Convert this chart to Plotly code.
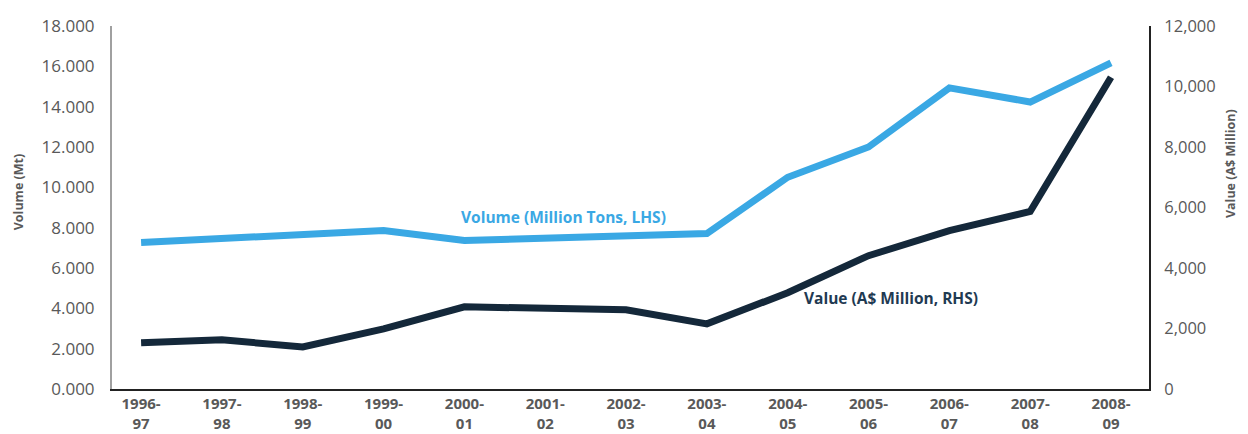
import plotly.graph_objects as go

categories = ["1996-97", "1997-98", "1998-99", "1999-00", "2000-01", "2001-02", "2002-03",
              "2003-04", "2004-05", "2005-06", "2006-07", "2007-08", "2008-09"]
volume_mt = [7.26, 7.46, 7.66, 7.86, 7.36, 7.46, 7.61, 7.71, 10.5, 12.0, 14.93, 14.23, 16.17]
value_aud_m = [1525, 1624, 1392, 1989, 2718, 2652, 2618, 2154, 3182, 4408, 5237, 5867, 10308]
left_ticks = [0, 2, 4, 6, 8, 10, 12, 14, 16, 18]
right_ticks = [0, 2000, 4000, 6000, 8000, 10000, 12000]

idx = list(range(len(categories)))
ticktext = [c.replace("-", "-<br>") for c in categories]

FONT = "Open Sans"
GRAY = "#595959"
BLUE = "#3AA8E4"
NAVY = "#14283A"

fig = go.Figure()
fig.add_trace(go.Scatter(x=idx, y=volume_mt, mode="lines", line=dict(color=BLUE, width=7),
                         name="Volume", yaxis="y"))
fig.add_trace(go.Scatter(x=idx, y=value_aud_m, mode="lines", line=dict(color=NAVY, width=7),
                         name="Value", yaxis="y2"))

# page body has an 8px default margin, so the figure is sized/offset to compensate
fig.update_layout(
    width=1240, height=426,
    margin=dict(l=104, r=99, t=18, b=45),
    paper_bgcolor="white", plot_bgcolor="white",
    showlegend=False,
    font=dict(family=FONT, color=GRAY, size=15),
    xaxis=dict(range=[-0.36, 12.47], tickvals=idx, ticktext=ticktext, showgrid=False,
               zeroline=False, showline=True, linecolor="#222222", linewidth=2,
               automargin=False, ticks="", ticklabelstandoff=0,
               tickfont=dict(family=FONT, size=15, color=GRAY, weight="bold")),
    yaxis=dict(range=[0, 18], tickvals=left_ticks, tickformat=".3f", showgrid=False,
               zeroline=False, showline=True, linecolor="#a0a0a0", linewidth=2,
               automargin=False, ticks="", ticklabelstandoff=12,
               tickfont=dict(family=FONT, size=17, color=GRAY)),
    yaxis2=dict(range=[0, 12000], tickvals=right_ticks, tickformat=",.0f", overlaying="y",
                side="right", showgrid=False, zeroline=False, showline=True,
                linecolor="#222222", linewidth=2, automargin=False, ticks="",
                ticklabelstandoff=10, tickfont=dict(family=FONT, size=16.5, color=GRAY)),
    annotations=[
        dict(text="Volume (Mt)", xref="paper", yref="paper", x=-0.090, y=0.541,
             textangle=-90, showarrow=False, xanchor="center", yanchor="middle",
             font=dict(family=FONT, size=12.5, color=GRAY, weight="bold")),
        dict(text="Value (A$ Million)", xref="paper", yref="paper", x=1.078, y=0.622,
             textangle=-90, showarrow=False, xanchor="center", yanchor="middle",
             font=dict(family=FONT, size=12.5, color=GRAY, weight="bold")),
        dict(text="Volume (Million Tons, LHS)", xref="x", yref="y", x=5.22, y=8.55,
             showarrow=False, xanchor="center", yanchor="middle",
             font=dict(family=FONT, size=15.5, color=BLUE, weight="bold")),
        dict(text="Value (A$ Million, RHS)", xref="x", yref="y2", x=9.28, y=3016,
             showarrow=False, xanchor="center", yanchor="middle",
             font=dict(family=FONT, size=15.5, color="#1F3A52", weight="bold")),
    ],
)

fig.write_html("out.html")
